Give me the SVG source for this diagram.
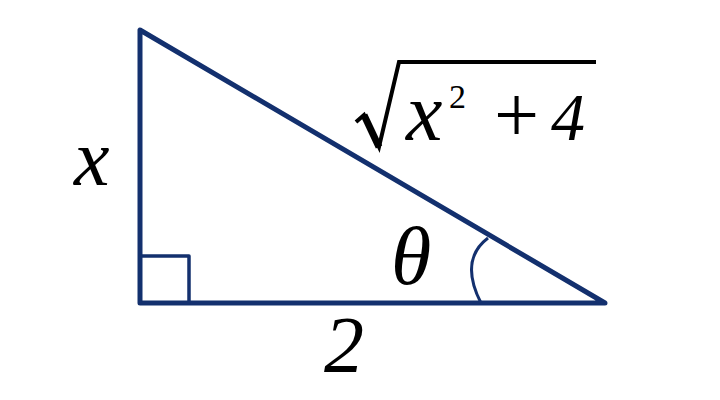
<svg xmlns="http://www.w3.org/2000/svg" width="720" height="400" viewBox="0 0 720 400">
<style>
.edge{fill:none;stroke:#13306e;stroke-linejoin:round}
.lbl{font-family:"Liberation Serif","Times New Roman",serif;font-style:italic;fill:#000}
.up{font-family:"Liberation Serif","Times New Roman",serif;fill:#000}
</style>
<rect width="720" height="400" fill="#fff"/>
<g id="triangle">
<polygon class="edge" points="140,30 140,303 605,303" stroke-width="5"/>
</g>
<g id="connectors">
<rect class="edge" x="140" y="256" width="49" height="47" stroke-width="3.5"/>
<path class="edge" d="M481,303 Q459,260 488,238" stroke-width="3"/>
</g>
<g id="label-x"><text class="lbl" x="74" y="185" font-size="80">x</text></g>
<g id="label-2"><text class="lbl" x="324" y="372" font-size="80">2</text></g>
<g id="label-theta"><text class="lbl" x="391" y="284" font-size="82">θ</text></g>
<g id="label-hyp">
<path d="M356,122 L364,115 L379,147 L399,62 L596,62" fill="none" stroke="#000" stroke-width="4" stroke-linejoin="miter"/>
<path d="M364,115 L379,147" fill="none" stroke="#000" stroke-width="7"/>
<text class="lbl" x="406" y="140" font-size="82">x</text>
<text class="up" x="449" y="108" font-size="34">2</text>
<text class="up" x="494" y="142" font-size="80">+</text>
<text class="lbl" x="551" y="140" font-size="68">4</text>
</g>
</svg>
